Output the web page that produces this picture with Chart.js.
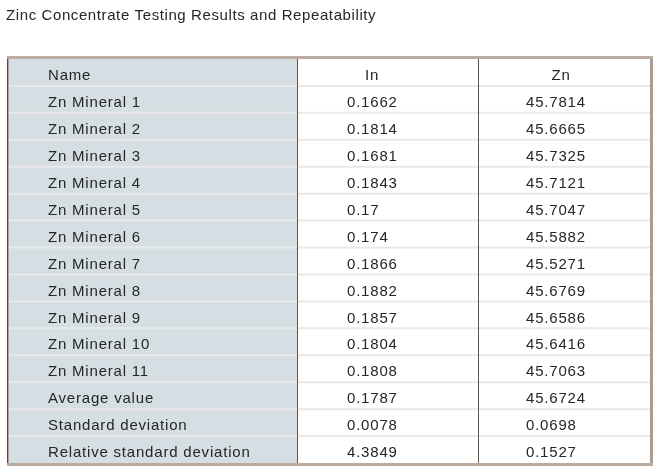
<!DOCTYPE html>
<html>
<head>
<meta charset="utf-8">
<script src="https://cdn.jsdelivr.net/npm/chart.js@4"></script>
<style>
  body { margin: 0; background: #fff; }
  #wrap { width: 663px; height: 475px; }
</style>
</head>
<body>
<div id="wrap"><canvas id="table-chart" width="663" height="475"></canvas></div>
<script>
// table data
var title = 'Zinc Concentrate Testing Results and Repeatability';
var headers = ['Name', 'In', 'Zn'];
var rowNames = ['Zn Mineral 1', 'Zn Mineral 2', 'Zn Mineral 3', 'Zn Mineral 4', 'Zn Mineral 5',
  'Zn Mineral 6', 'Zn Mineral 7', 'Zn Mineral 8', 'Zn Mineral 9', 'Zn Mineral 10', 'Zn Mineral 11',
  'Average value', 'Standard deviation', 'Relative standard deviation'];
var inValues = [0.1662, 0.1814, 0.1681, 0.1843, 0.17, 0.174, 0.1866, 0.1882, 0.1857, 0.1804, 0.1808,
  0.1787, 0.0078, 4.3849];
var znValues = [45.7814, 45.6665, 45.7325, 45.7121, 45.7047, 45.5882, 45.5271, 45.6769, 45.6586, 45.6416, 45.7063,
  45.6724, 0.0698, 0.1527];

// layout (x scale runs in pixels across the table)
var tableWidth = 641;
var colEdges = [0, 288, 469.5, 641];
var rows = [headers[0]].concat(rowNames);

function colRange(c) {
  return rows.map(function () { return [colEdges[c], colEdges[c + 1]]; });
}

var tablePlugin = {
  id: 'tableText',
  afterDatasetsDraw: function (chart) {
    var ctx = chart.ctx;
    var x = chart.scales.x, y = chart.scales.y;
    var area = chart.chartArea;
    var half = (y.getPixelForValue(1) - y.getPixelForValue(0)) / 2;
    ctx.save();

    // row separators
    ctx.strokeStyle = '#e9e9e9';
    ctx.lineWidth = 2;
    for (var i = 0; i < rows.length - 1; i++) {
      var yy = y.getPixelForValue(i) + half;
      ctx.beginPath();
      ctx.moveTo(area.left, yy);
      ctx.lineTo(area.right, yy);
      ctx.stroke();
    }

    // column dividers
    ctx.strokeStyle = '#6b5142';
    ctx.lineWidth = 1;
    [1, 2].forEach(function (c) {
      var xx = Math.round(x.getPixelForValue(colEdges[c])) + 0.5;
      ctx.beginPath();
      ctx.moveTo(xx, area.top);
      ctx.lineTo(xx, area.bottom);
      ctx.stroke();
    });

    // outer frame
    ctx.fillStyle = '#bcaba1';
    ctx.fillRect(area.left - 2, area.top - 3, area.right - area.left + 5, 3);
    ctx.fillRect(area.left - 2, area.bottom, area.right - area.left + 5, 3);
    ctx.fillStyle = '#aa9a90';
    ctx.fillRect(area.right, area.top, 3, area.bottom - area.top);
    ctx.fillStyle = '#5e4434';
    ctx.fillRect(area.left - 2, area.top, 1.5, area.bottom - area.top);

    // text
    ctx.fillStyle = '#262626';
    ctx.font = '15px "Liberation Sans", Arial, sans-serif';
    ctx.letterSpacing = '0.8px';
    ctx.textBaseline = 'middle';
    rows.forEach(function (name, i) {
      var yy = y.getPixelForValue(i) + 3.5;
      ctx.textAlign = 'left';
      ctx.fillText(name, x.getPixelForValue(39), yy);
      if (i === 0) {
        ctx.textAlign = 'center';
        ctx.fillText(headers[1], x.getPixelForValue(363), yy);
        ctx.fillText(headers[2], x.getPixelForValue(552), yy);
      } else {
        ctx.fillText(String(inValues[i - 1]), x.getPixelForValue(338), yy);
        ctx.fillText(String(znValues[i - 1]), x.getPixelForValue(517), yy);
      }
    });

    // title
    ctx.font = '15px "Liberation Sans", Arial, sans-serif';
    ctx.letterSpacing = '0.6px';
    ctx.textAlign = 'left';
    ctx.fillText(title, 6, 15.5);
    ctx.restore();
  }
};

var tableChart = new Chart(document.getElementById('table-chart').getContext('2d'), {
  type: 'bar',
  data: {
    labels: rows,
    datasets: [
      { label: headers[0], data: colRange(0), backgroundColor: '#d5dee3' },
      { label: headers[1], data: colRange(1), backgroundColor: '#ffffff' },
      { label: headers[2], data: colRange(2), backgroundColor: '#ffffff' }
    ]
  },
  options: {
    indexAxis: 'y',
    responsive: false,
    animation: false,
    grouped: false,
    barPercentage: 1,
    categoryPercentage: 1,
    layout: { padding: { left: 9, right: 13, top: 59, bottom: 12 } },
    scales: {
      x: { type: 'linear', min: 0, max: tableWidth, display: false },
      y: { type: 'category', display: false }
    },
    plugins: {
      legend: { display: false },
      title: { display: false },
      tooltip: { enabled: false }
    }
  },
  plugins: [tablePlugin]
});
</script>
</body>
</html>
